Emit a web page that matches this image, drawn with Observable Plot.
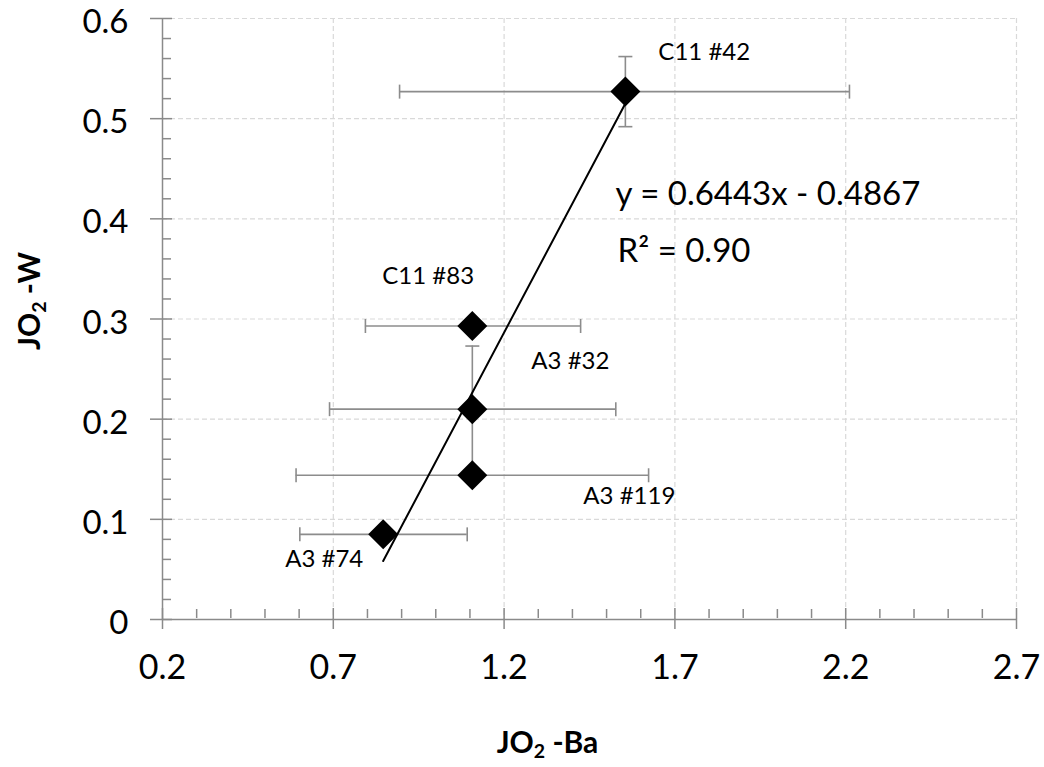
<!DOCTYPE html>
<html><head><meta charset="utf-8">
<script src="https://cdn.jsdelivr.net/npm/d3@7"></script>
<script src="https://cdn.jsdelivr.net/npm/@observablehq/plot@0.6"></script>
<style>body{margin:0;background:#fff} svg{display:block}</style>
</head><body><div id="chart"></div>
<script>
// ---- data ----
const sampleLabels = ["C11 #42", "C11 #83", "A3 #32", "A3 #119", "A3 #74"];
const jo2Ba = [1.555, 1.107, 1.107, 1.107, 0.846];
const jo2W = [0.527, 0.293, 0.210, 0.144, 0.085];
const jo2BaLow = [0.894, 0.794, 0.689, 0.591, 0.602];
const jo2BaHigh = [2.211, 1.424, 1.527, 1.623, 1.092];
const jo2WErr = [0.035, 0, 0.063, 0, 0];
const trendSlope = 0.6443;
const trendIntercept = -0.4867;
const rSquared = 0.90;
const xMajorTicks = [0.2, 0.7, 1.2, 1.7, 2.2, 2.7];
const xMinorTicks = [0.3,0.4,0.5,0.6,0.8,0.9,1.0,1.1,1.3,1.4,1.5,1.6,1.8,1.9,2.0,2.1,2.3,2.4,2.5,2.6];
const yMajorTicks = [0, 0.1, 0.2, 0.3, 0.4, 0.5, 0.6];
const yMinorTicks = [0.02,0.04,0.06,0.08,0.12,0.14,0.16,0.18,0.22,0.24,0.26,0.28,0.32,0.34,0.36,0.38,0.42,0.44,0.46,0.48,0.52,0.54,0.56,0.58];
const xTitle = "JO\u2082 -Ba";
const yTitle = "JO\u2082 -W";

// ---- tables ----
const points = sampleLabels.map((label, i) => ({
  label, x: jo2Ba[i], y: jo2W[i], xlo: jo2BaLow[i], xhi: jo2BaHigh[i],
  err: jo2WErr[i], ylo: jo2W[i] - jo2WErr[i], yhi: jo2W[i] + jo2WErr[i]
}));
const vPoints = points.filter(d => d.err > 0);
const xExt = d3.extent(jo2Ba);
const trend = xExt.map(x => ({x, y: trendSlope * x + trendIntercept}));

// label placement (pixel offsets from each point)
const labelOffsets = {
  "C11 #42": [33, -32], "C11 #83": [-90, -42], "A3 #32": [59, -40],
  "A3 #119": [111, 29], "A3 #74": [-98, 33]
};

const diamond = {draw(ctx, size) { const r = Math.sqrt(size / Math.PI);
  ctx.moveTo(0, -r); ctx.lineTo(r, 0); ctx.lineTo(0, r); ctx.lineTo(-r, 0); ctx.closePath(); }};
const vCap = {draw(ctx, size) { const r = Math.sqrt(size / Math.PI); ctx.moveTo(0, -r); ctx.lineTo(0, r); }};
const hCap = {draw(ctx, size) { const r = Math.sqrt(size / Math.PI); ctx.moveTo(-r, 0); ctx.lineTo(r, 0); }};

const axisGray = "#8a8a8a";
const errGray = "#8c8c8c";
const gridGray = "#d9d9d9";
const fmtY = d => d === 0 ? "0" : d.toFixed(1);

const labelMarks = points.map(d => Plot.text([d], {
  x: "x", y: "y", text: "label", textAnchor: "start", lineAnchor: "bottom",
  dx: labelOffsets[d.label][0], dy: labelOffsets[d.label][1], fontSize: 24, fill: "#000"
}));

const chart = Plot.plot({
  width: 1044, height: 767,
  marginLeft: 162, marginRight: 28, marginTop: 18, marginBottom: 148,
  style: {fontFamily: "Lato, 'Open Sans', sans-serif", background: "#fff", color: "#000"},
  x: {domain: [0.2, 2.7], axis: null},
  y: {domain: [0, 0.6], axis: null},
  marks: [
    Plot.gridX(xMajorTicks.slice(1), {stroke: gridGray, strokeOpacity: 1, strokeWidth: 1.2, strokeDasharray: "5,3"}),
    Plot.gridY(yMajorTicks.slice(1), {stroke: gridGray, strokeOpacity: 1, strokeWidth: 1.2, strokeDasharray: "5,3"}),
    // error bars
    Plot.ruleY(points, {y: "y", x1: "xlo", x2: "xhi", stroke: errGray, strokeWidth: 1.6}),
    Plot.ruleX(vPoints, {x: "x", y1: "ylo", y2: "yhi", stroke: errGray, strokeWidth: 1.6}),
    Plot.dot(points, {x: "xlo", y: "y", symbol: vCap, r: 7, stroke: errGray, fill: "none", strokeWidth: 1.6}),
    Plot.dot(points, {x: "xhi", y: "y", symbol: vCap, r: 7, stroke: errGray, fill: "none", strokeWidth: 1.6}),
    Plot.dot(vPoints, {x: "x", y: "yhi", symbol: hCap, r: 7, stroke: errGray, fill: "none", strokeWidth: 1.6}),
    Plot.dot(vPoints, {x: "x", y: "ylo", symbol: hCap, r: 7, stroke: errGray, fill: "none", strokeWidth: 1.6}),
    // points
    Plot.dot(points, {x: "x", y: "y", symbol: diamond, r: 15, fill: "#000", stroke: "none"}),
    // trendline
    Plot.line(trend, {x: "x", y: "y", stroke: "#000", strokeWidth: 2}),
    // axes lines
    Plot.ruleX([0.2], {stroke: axisGray, strokeWidth: 1.5}),
    Plot.ruleY([0], {stroke: axisGray, strokeWidth: 1.5}),
    // ticks
    Plot.axisX({ticks: xMajorTicks, tickSize: 21, dy: -11, tickFormat: () => "", stroke: axisGray, strokeWidth: 1.5}),
    Plot.axisX({ticks: xMinorTicks, tickSize: 9, dy: -10, tickFormat: () => "", stroke: axisGray, strokeWidth: 1.5}),
    Plot.axisY({ticks: yMajorTicks, tickSize: 22, dx: 10, tickFormat: () => "", stroke: axisGray, strokeWidth: 1.5}),
    Plot.axisY({ticks: yMinorTicks, tickSize: 9, dx: 9, tickFormat: () => "", stroke: axisGray, strokeWidth: 1.5}),
    // tick labels
    Plot.axisX({ticks: xMajorTicks, tickSize: 0, tickPadding: 35, tickFormat: d => d.toFixed(1), fontSize: 34, fill: "#000", label: null}),
    Plot.axisY({ticks: yMajorTicks, tickSize: 0, tickPadding: 34, dy: 4, tickFormat: fmtY, fontSize: 33, fill: "#000", label: null}),
    // axis titles
    Plot.text([xTitle], {frameAnchor: "bottom", dx: -42, dy: 133, textAnchor: "middle", lineAnchor: "bottom", fontSize: 30, fontWeight: "bold", fill: "#000", className: "subtitle-text"}),
    Plot.text([yTitle], {frameAnchor: "left", dx: -132, dy: -18, rotate: -90, textAnchor: "middle", lineAnchor: "middle", fontSize: 30, fontWeight: "bold", fill: "#000", className: "subtitle-text"}),
    // point labels
    ...labelMarks,
    // trendline equation
    Plot.text([`y = ${trendSlope}x - ${Math.abs(trendIntercept)}`], {frameAnchor: "top-left", dx: 453, dy: 186, textAnchor: "start", lineAnchor: "bottom", fontSize: 33, fill: "#000"}),
    Plot.text([`R\u00b2 = ${rSquared.toFixed(2)}`], {frameAnchor: "top-left", dx: 455, dy: 243, textAnchor: "start", lineAnchor: "bottom", fontSize: 33, fill: "#000"})
  ]
});
document.getElementById("chart").appendChild(chart);

// render the subscript 2 in the axis titles as a lowered, smaller digit
d3.select(chart).selectAll(".subtitle-text text").each(function() {
  const t = this.textContent;
  const i = t.indexOf("\u2082");
  if (i < 0) return;
  const sel = d3.select(this);
  sel.text(null);
  sel.append("tspan").text(t.slice(0, i));
  sel.append("tspan").attr("font-size", "0.65em").attr("dy", "0.3em").text("2");
  sel.append("tspan").attr("dy", "-0.195em").text(t.slice(i + 1));
});
</script>
</body></html>
